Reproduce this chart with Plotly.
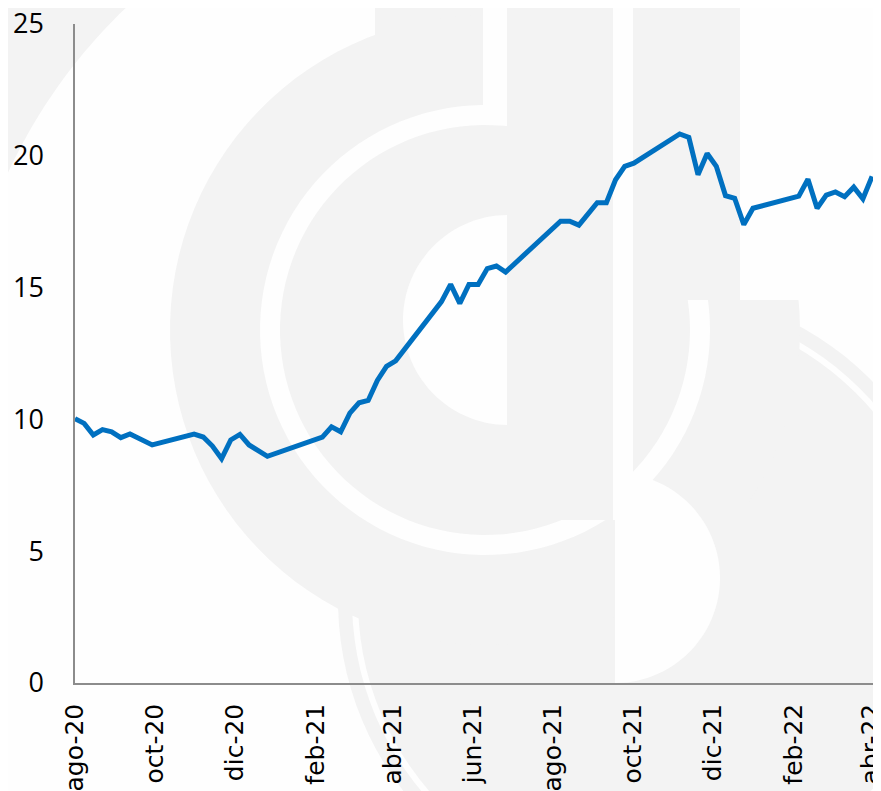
import numpy as np
import plotly.graph_objects as go

# ---------------- data ----------------
dates = [
    "2020-08-01", "2020-08-08", "2020-08-15", "2020-08-22", "2020-08-29", "2020-09-05", "2020-09-12",
    "2020-09-29",
    "2020-10-31", "2020-11-07", "2020-11-14", "2020-11-21", "2020-11-28", "2020-12-05", "2020-12-12",
    "2020-12-26",
    "2021-02-06", "2021-02-13", "2021-02-20", "2021-02-27", "2021-03-06", "2021-03-13", "2021-03-20",
    "2021-03-27", "2021-04-03",
    "2021-05-08", "2021-05-15", "2021-05-22", "2021-05-29", "2021-06-05", "2021-06-12", "2021-06-19",
    "2021-06-26",
    "2021-08-07", "2021-08-14", "2021-08-21",
    "2021-09-04", "2021-09-11", "2021-09-18", "2021-09-25", "2021-10-02",
    "2021-11-06", "2021-11-13", "2021-11-20", "2021-11-27", "2021-12-04", "2021-12-11", "2021-12-18",
    "2021-12-25", "2022-01-01",
    "2022-02-05", "2022-02-12", "2022-02-19", "2022-02-26", "2022-03-05", "2022-03-12", "2022-03-19",
    "2022-03-26", "2022-04-02",
]
values = [
    10.03, 9.85, 9.41, 9.61, 9.53, 9.31, 9.45,
    9.03,
    9.44, 9.33, 8.99, 8.51, 9.22, 9.43, 9.03,
    8.60,
    9.33, 9.72, 9.53, 10.24, 10.63, 10.72, 11.48,
    12.01, 12.22,
    14.47, 15.12, 14.40, 15.12, 15.12, 15.72, 15.82,
    15.59,
    17.52, 17.52, 17.37,
    18.22, 18.22, 19.09, 19.60, 19.72,
    20.83, 20.70, 19.28, 20.09, 19.60, 18.49, 18.39,
    17.39, 18.01,
    18.47, 19.11, 18.01, 18.51, 18.63, 18.45, 18.81,
    18.37, 19.22,
]
tick_dates = ["2020-08-01", "2020-10-01", "2020-12-01", "2021-02-01", "2021-04-01", "2021-06-01",
              "2021-08-01", "2021-10-01", "2021-12-01", "2022-02-01", "2022-04-01"]
tick_labels = ["ago-20", "oct-20", "dic-20", "feb-21", "abr-21", "jun-21",
               "ago-21", "oct-21", "dic-21", "feb-22", "abr-22"]
y_ticks = [0, 5, 10, 15, 20, 25]

# ---------------- layout geometry ----------------
W, H = 881, 791
OFF = 8  # page body offset
# plot area in screen pixels
SX0, SX1, SY0, SY1 = 75, 876, 24, 683
L = SX0 - OFF
T = SY0 - OFF
R = W - (SX1 - OFF)
B = H - (SY1 - OFF)
PW, PH = SX1 - SX0, SY1 - SY0

GRAY = "#f3f3f3"
WHITE = "#fefefe"


def to_paper(x, y):
    return (x - SX0) / PW, (SY1 - y) / PH


def poly_path(pts):
    s = []
    for i, (x, y) in enumerate(pts):
        px, py = to_paper(x, y)
        s.append(("M" if i == 0 else "L") + f"{px:.5f},{py:.5f}")
    return " ".join(s) + " Z"


def circle_pts(cx, cy, r, a0=0, a1=360, n=120):
    a = np.radians(np.linspace(a0, a1, n))
    return list(zip(cx + r * np.cos(a), cy + r * np.sin(a)))


def rect_pts(x0, y0, x1, y1):
    return [(x0, y0), (x1, y0), (x1, y1), (x0, y1)]


shapes = []


def add(pts, color):
    shapes.append(dict(type="path", xref="paper", yref="paper", path=poly_path(pts),
                       fillcolor=color, line=dict(width=0), layer="below"))


# watermark (faint logo)
add([(-5, -5), (-5, 180)] + circle_pts(500, 400, 542, 202, 255, 60) + [(133, -5)], GRAY)
add(circle_pts(650, 600, 312), GRAY)
add(circle_pts(650, 600, 298), WHITE)
add(circle_pts(650, 600, 292), GRAY)
add(rect_pts(375, -5, 483, 200), GRAY)
add(circle_pts(485, 330, 315), GRAY)
add(circle_pts(485, 330, 225), WHITE)
add(circle_pts(485, 330, 205), GRAY)
add(circle_pts(508, 320, 105, 90, 270, 60), WHITE)
add(rect_pts(507, -5, 613, 520), GRAY)
add(rect_pts(483, -5, 507, 112), WHITE)
add(rect_pts(613, -5, 633, 520), WHITE)
add(rect_pts(633, -5, 740, 300), GRAY)
add(rect_pts(740, -5, 890, 300), WHITE)
add(circle_pts(615, 578, 105, -90, 90, 60), WHITE)

fig = go.Figure()
fig.add_trace(go.Scatter(x=dates, y=values, mode="lines",
                         line=dict(color="#0070C0", width=5), hoverinfo="skip"))

fig.update_layout(
    width=W, height=H,
    margin=dict(l=L, r=R, t=T, b=B),
    paper_bgcolor=WHITE,
    plot_bgcolor="rgba(0,0,0,0)",
    showlegend=False,
    shapes=shapes,
    xaxis=dict(
        type="date", range=["2020-08-01", "2022-04-05"],
        tickmode="array", tickvals=tick_dates, ticktext=tick_labels,
        tickangle=-90, ticks="", ticklabelstandoff=9, ticklabeloverflow="allow",
        showline=True, linecolor="#8c8c8c", linewidth=1.5,
        showgrid=False, zeroline=False, automargin=False,
        tickfont=dict(family="DejaVu Sans", size=25, color="#000000"),
    ),
    yaxis=dict(
        range=[0, 25], tickmode="array", tickvals=y_ticks,
        ticks="", ticklabelstandoff=24, ticklabeloverflow="allow",
        showline=True, linecolor="#8c8c8c", linewidth=1.5,
        showgrid=False, zeroline=False, automargin=False,
        tickfont=dict(family="Open Sans", size=27, color="#000000"),
    ),
)

fig.write_html("out.html")
